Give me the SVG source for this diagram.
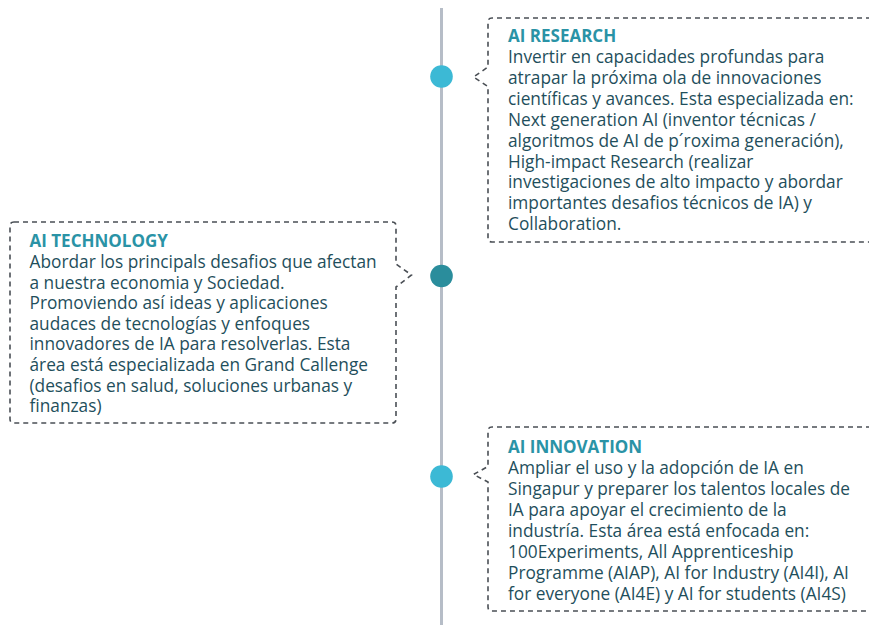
<svg xmlns="http://www.w3.org/2000/svg" width="869" height="625" viewBox="0 0 869 625">
<style>
.box{fill:none;stroke:#4a4f55;stroke-width:1.6;stroke-dasharray:5 4;}
.title{font-family:"Open Sans","Noto Sans",sans-serif;font-weight:bold;font-size:17px;fill:#2a93a6;}
.body{font-family:"Open Sans","Noto Sans",sans-serif;font-size:17.3px;fill:#1f4f5c;}
.line{stroke:#b6bdc7;stroke-width:3;}
</style>
<rect width="869" height="625" fill="#ffffff"/>
<g id="timeline">
<line class="line" x1="441.5" y1="8" x2="441.5" y2="625"/>
</g>
<g id="connectors"></g>
<g id="research">
<path class="box" d="M 880 18 H 492 Q 488 18 488 22 V 67 L 473.5 77 L 488 86.5 V 238 Q 488 242 492 242 H 880"/>
<circle cx="441.5" cy="76.5" r="11.3" fill="#3cb9d5"/>
<text class="title" x="508" y="41.5">AI RESEARCH</text>
<text class="body" x="508" y="63">
<tspan x="508" dy="0">Invertir en capacidades profundas para</tspan>
<tspan x="508" dy="20.9">atrapar la próxima ola de innovaciones</tspan>
<tspan x="508" dy="20.9">científicas y avances. Esta especializada en:</tspan>
<tspan x="508" dy="20.9">Next generation AI (inventor técnicas /</tspan>
<tspan x="508" dy="20.9">algoritmos de AI de p´roxima generación),</tspan>
<tspan x="508" dy="20.9">High-impact Research (realizar</tspan>
<tspan x="508" dy="20.9">investigaciones de alto impacto y abordar</tspan>
<tspan x="508" dy="20.9">importantes desafios técnicos de IA) y</tspan>
<tspan x="508" dy="20.9">Collaboration.</tspan>
</text>
</g>
<g id="technology">
<path class="box" d="M 14 222 H 392 Q 396 222 396 226 V 264 L 411.5 275 L 396 287 V 419 Q 396 423 392 423 H 14 Q 10 423 10 419 V 226 Q 10 222 14 222 Z"/>
<circle cx="441.5" cy="276" r="11.3" fill="#2a8d9c"/>
<text class="title" x="29.5" y="246.5">AI TECHNOLOGY</text>
<text class="body" x="29.5" y="268">
<tspan x="29.5" dy="0">Abordar los principals desafios que afectan</tspan>
<tspan x="29.5" dy="20.6">a nuestra economia y Sociedad.</tspan>
<tspan x="29.5" dy="20.6">Promoviendo así ideas y aplicaciones</tspan>
<tspan x="29.5" dy="20.6">audaces de tecnologías y enfoques</tspan>
<tspan x="29.5" dy="20.6">innovadores de IA para resolverlas. Esta</tspan>
<tspan x="29.5" dy="20.6">área está especializada en Grand Callenge</tspan>
<tspan x="29.5" dy="20.6">(desafios en salud, soluciones urbanas y</tspan>
<tspan x="29.5" dy="20.6">finanzas)</tspan>
</text>
</g>
<g id="innovation">
<path class="box" d="M 880 427 H 492 Q 488 427 488 431 V 466.5 L 473.5 474.5 L 488 482 V 607 Q 488 611 492 611 H 880"/>
<circle cx="441.5" cy="476.5" r="11.3" fill="#3cb9d5"/>
<text class="title" x="508" y="452.5">AI INNOVATION</text>
<text class="body" x="508" y="473.5">
<tspan x="508" dy="0">Ampliar el uso y la adopción de IA en</tspan>
<tspan x="508" dy="21.1">Singapur y preparer los talentos locales de</tspan>
<tspan x="508" dy="21.1">IA para apoyar el crecimiento de la</tspan>
<tspan x="508" dy="21.1">industría. Esta área está enfocada en:</tspan>
<tspan x="508" dy="21.1">100Experiments, All Apprenticeship</tspan>
<tspan x="508" dy="21.1">Programme (AIAP), AI for Industry (AI4I), AI</tspan>
<tspan x="508" dy="21.1">for everyone (AI4E) y AI for students (AI4S)</tspan>
</text>
</g>
</svg>
